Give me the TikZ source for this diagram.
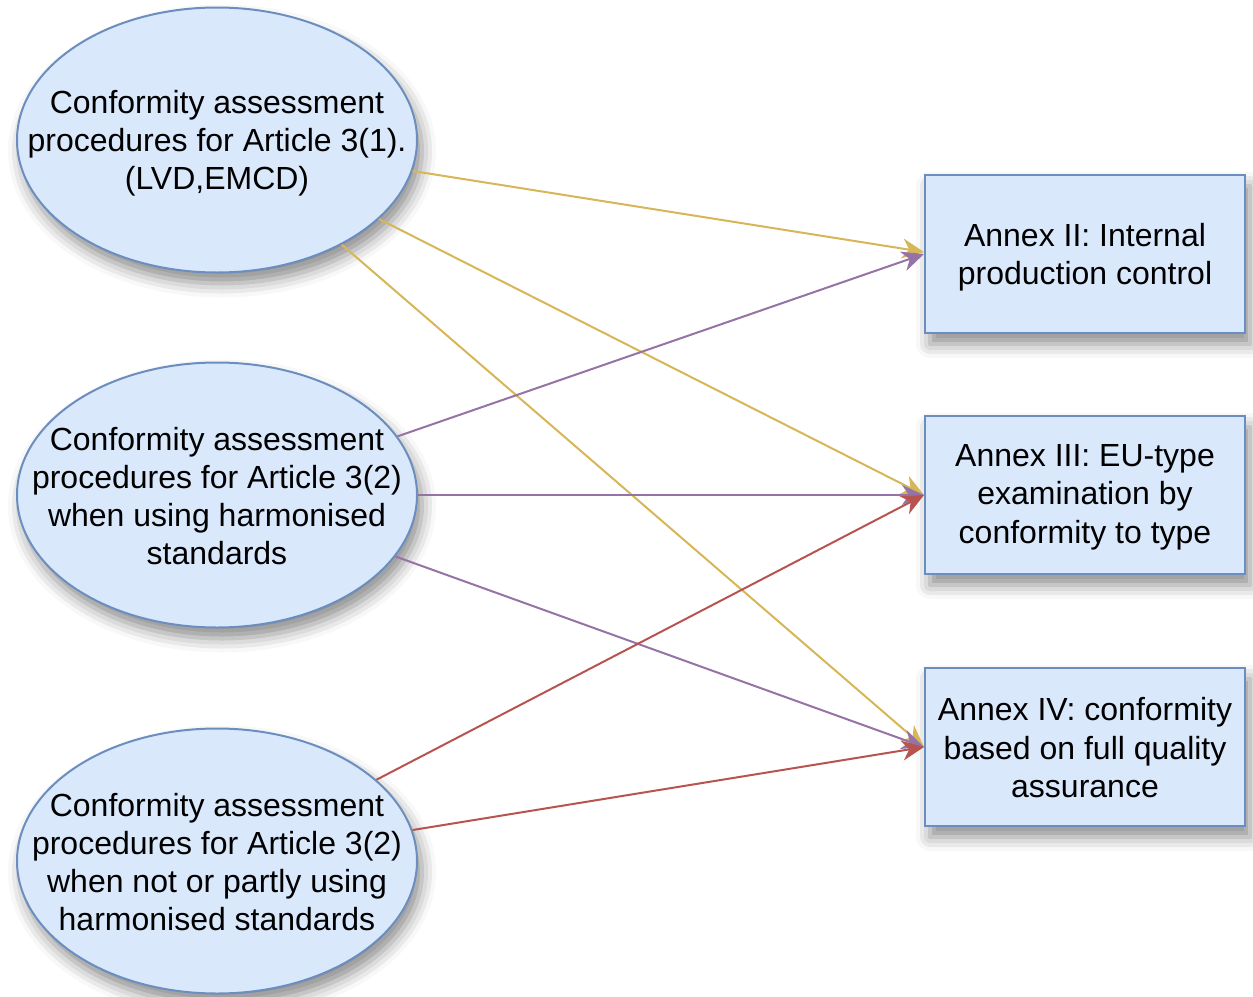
\documentclass[tikz,border=0pt]{standalone}
\usepackage{fontspec}
\setmainfont{Liberation Sans}
\usetikzlibrary{shapes.geometric,arrows.meta,shadows.blur}
\definecolor{bfill}{HTML}{DAE8FC}
\definecolor{bdraw}{HTML}{6C8EBF}
\definecolor{cyel}{HTML}{D6B656}
\definecolor{cpur}{HTML}{9673A6}
\definecolor{cred}{HTML}{B85450}
\tikzset{
  shad/.style={blur shadow={shadow xshift=5pt,shadow yshift=-11pt,shadow blur radius=14pt,shadow opacity=45}},
  ell/.style={ellipse,draw=bdraw,fill=bfill,line width=2pt,minimum width=400pt,minimum height=265pt,inner sep=0pt,shad},
  etxt/.style={align=center,inner sep=0pt,font=\fontsize{32}{38}\selectfont},
  box/.style={rectangle,draw=bdraw,fill=bfill,line width=2pt,minimum width=320pt,minimum height=158pt,inner sep=0pt,shad},
  btxt/.style={align=center,inner sep=0pt,font=\fontsize{32}{38.5}\selectfont},
  conn/.style={line width=2pt,-{Stealth[length=22pt,width=20pt,inset=7pt]}},
}
\begin{document}
\begin{tikzpicture}[x=1pt,y=-1pt]
\useasboundingbox (0,0) rectangle (1253,996);
\node[ell] (e1) at (217,140) {};
\node[etxt] (t1) at ([yshift=-3pt]e1.center) {Conformity assessment\\procedures for Article 3(1).\\(LVD,EMCD)};
\node[ell] (e2) at (217,495) {};
\node[etxt] (t2) at ([yshift=-1pt]e2.center) {Conformity assessment\\procedures for Article 3(2)\\when using harmonised\\standards};
\node[ell] (e3) at (217,861) {};
\node[etxt] (t3) at ([yshift=-1pt]e3.center) {Conformity assessment\\procedures for Article 3(2)\\when not or partly using\\harmonised standards};
\node[box] (b1) at (1085,254) {};
\node[btxt] (u1) at ([yshift=-3pt]b1.center) {Annex II: Internal\\production control};
\node[box] (b2) at (1085,495) {};
\node[btxt] (u2) at ([yshift=-2pt]b2.center) {Annex III: EU-type\\examination by\\conformity to type};
\node[box] (b3) at (1085,747) {};
\node[btxt] (u3) at ([yshift=-1pt]b3.center) {Annex IV: conformity\\based on full quality\\assurance};
\draw[conn,cyel] (e1.-9.3) -- ([yshift=2pt]b1.west);
\draw[conn,cyel] (e1.-26.7) -- (b2.west);
\draw[conn,cyel] (e1.-40.3) -- (b3.west);
\draw[conn,cpur] (e2.18.9) -- (b1.west);
\draw[conn,cpur] (e2.0) -- (b2.west);
\draw[conn,cpur] (e2.-19.7) -- (b3.west);
\draw[conn,cred] (e3.27.6) -- (b2.west);
\draw[conn,cred] (e3.9.6) -- (b3.west);
\end{tikzpicture}
\end{document}
